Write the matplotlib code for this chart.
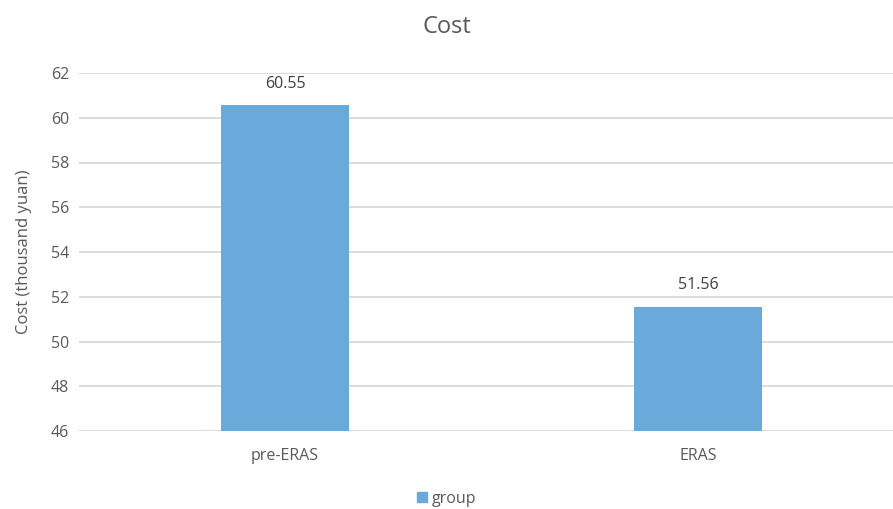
import matplotlib.pyplot as plt
from matplotlib.patches import Patch

categories = ['pre-ERAS', 'ERAS']
costs = [60.55, 51.56]
y_ticks = [46, 48, 50, 52, 54, 56, 58, 60, 62]

plt.rcParams['font.family'] = ['Open Sans', 'DejaVu Sans']
grey = '#595959'
blue = '#6aaadb'

fig = plt.figure(figsize=(8.93, 5.09), dpi=100)
ax = fig.add_axes([79/893, 1-431/509, 814/893, (431-73)/509])

x = range(len(categories))
bars = ax.bar(x, costs, width=0.31, color=blue, zorder=3, label='group')
for xi, v in zip(x, costs):
    ax.text(xi, v + 0.6, f'{v:.2f}', ha='center', va='bottom', fontsize=11.5, color='#404040')

ax.set_ylim(46, 62)
ax.set_xlim(-0.499, 1.472)
ax.set_yticks(y_ticks)
ax.set_xticks(list(x))
ax.set_xticklabels(categories)
ax.yaxis.grid(True, color='#d9d9d9', linewidth=1.3, zorder=0)
ax.tick_params(axis='both', length=0, labelsize=11.5, labelcolor=grey, pad=7)
ax.tick_params(axis='x', pad=12)
for s in ax.spines.values():
    s.set_visible(False)

ax.set_ylabel('Cost (thousand yuan)', fontsize=12, color=grey, labelpad=14)
fig.text(0.5, 1-27/509, 'Cost', ha='center', va='center', fontsize=17, color=grey)
fig.legend(handles=[Patch(color=blue, label='group')], loc='center', bbox_to_anchor=(0.5, 1-499/509),
           frameon=False, fontsize=11.5, labelcolor=grey, handlelength=0.6, handleheight=0.6, handletextpad=0.3)

fig.savefig('out.png', dpi=100)
